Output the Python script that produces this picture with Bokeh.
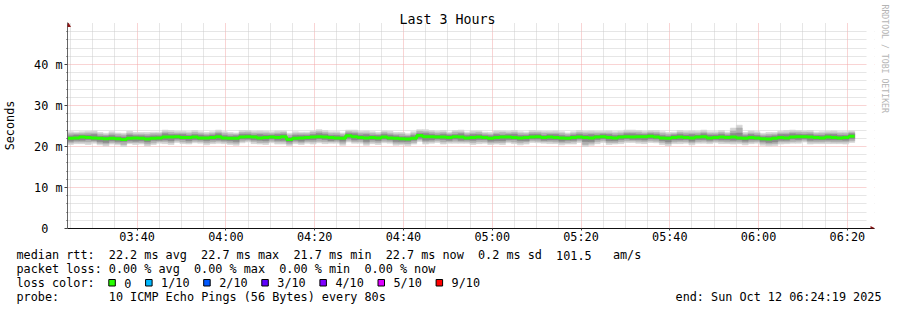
import numpy as np
import pandas as pd
from bokeh.plotting import figure
from bokeh.layouts import column
from bokeh.models import (Range1d, FixedTicker, DatetimeTickFormatter, Title,
                          BoxAnnotation, PolyAnnotation, ColumnDataSource)
from bokeh.core.properties import value
from bokeh.embed import file_html
from bokeh.resources import INLINE

# ---------------- data ----------------
title_text = "Last 3 Hours"
y_axis_text = "Seconds"
watermark_text = "RRDTOOL / TOBI OETIKER"
start_time = "2025-10-12 03:24:19"
end_time = "2025-10-12 06:24:19"
step_seconds = 80

x_tick_labels = ["03:40", "04:00", "04:20", "04:40", "05:00", "05:20", "05:40", "06:00", "06:20"]
x_minor_labels = ["03:25", "03:30", "03:35", "03:45", "03:50", "03:55", "04:05", "04:10", "04:15",
                  "04:25", "04:30", "04:35", "04:45", "04:50", "04:55", "05:05", "05:10", "05:15",
                  "05:25", "05:30", "05:35", "05:45", "05:50", "05:55", "06:05", "06:10", "06:15"]
y_ticks = [0, 10, 20, 30, 40]
y_tick_labels = ["0\u00a0\u00a0", "10 m", "20 m", "30 m", "40 m"]
y_minor_ticks = [2, 4, 6, 8, 12, 14, 16, 18, 22, 24, 26, 28, 32, 34, 36, 38, 42, 44, 46, 48]

# median RTT per 80 s step (ms)
median_ms = [
    22.0, 22.1, 22.3, 22.2, 22.1, 22.0, 21.9, 22.0, 21.9, 21.7, 22.0, 22.1, 22.0, 21.8, 22.0, 22.1, 22.3, 22.3, 22.4, 22.2, 22.2, 22.3, 22.1, 22.1, 22.2, 22.4, 22.1,
    22.0, 22.0, 22.3, 22.4, 22.3, 22.1, 22.2, 22.3, 22.2, 22.4, 21.7, 22.0, 22.1, 22.2, 22.3, 22.4, 22.3, 22.2, 22.1, 22.0, 22.6, 22.4, 22.2, 22.1, 22.2, 22.1, 22.3,
    22.1, 22.0, 21.9, 21.8, 22.0, 22.7, 22.4, 22.4, 22.3, 22.3, 22.2, 22.4, 22.3, 22.1, 22.2, 22.3, 22.2, 22.0, 22.2, 22.3, 22.3, 22.2, 22.1, 22.2, 22.3, 22.4, 22.2,
    22.3, 22.2, 22.1, 22.0, 22.2, 22.3, 22.2, 22.1, 22.3, 22.4, 22.2, 22.1, 22.3, 22.4, 22.3, 22.4, 22.4, 22.5, 22.3, 22.1, 22.0, 22.2, 22.3, 22.2, 22.1, 22.3, 22.4,
    22.1, 22.2, 22.3, 22.2, 22.3, 22.1, 22.0, 22.2, 22.1, 21.9, 21.8, 22.0, 22.2, 22.1, 22.3, 22.4, 22.4, 22.3, 22.2, 22.1, 22.3, 22.2, 22.1, 22.2, 22.5,
]
# smoke spread below / above the median (tenths of ms)
outer_dn = [
    15, 14, 16, 17, 13, 16, 18, 14, 15, 17, 13, 16, 14, 17, 15, 13, 16, 18, 14, 15, 16, 14, 13, 17, 15, 16, 14,
    15, 17, 14, 13, 16, 15, 17, 14, 16, 18, 15, 13, 16, 14, 17, 15, 16, 14, 13, 17, 15, 16, 14, 18, 15, 16, 14,
    13, 17, 15, 16, 14, 15, 18, 16, 13, 17, 14, 16, 15, 13, 17, 16, 14, 15, 16, 18, 14, 15, 17, 16, 13, 15, 14,
    16, 15, 17, 14, 16, 13, 22, 18, 16, 14, 17, 15, 16, 14, 13, 16, 17, 15, 14, 16, 18, 15, 16, 14, 17, 15, 16,
    14, 13, 16, 15, 17, 14, 16, 15, 13, 16, 17, 18, 16, 14, 15, 16, 13, 17, 15, 14, 16, 15, 14, 16, 15,
]
outer_up = [
    16, 14, 13, 15, 17, 14, 13, 16, 14, 15, 17, 13, 14, 16, 15, 14, 17, 16, 13, 15, 14, 16, 15, 13, 14, 16, 15,
    14, 13, 16, 15, 14, 17, 15, 13, 16, 14, 15, 16, 14, 13, 15, 17, 16, 14, 15, 13, 14, 16, 15, 17, 14, 13, 15,
    16, 14, 15, 13, 16, 14, 17, 15, 14, 16, 13, 15, 17, 14, 16, 15, 13, 14, 16, 15, 14, 17, 15, 13, 16, 14, 15,
    14, 16, 15, 13, 14, 16, 15, 17, 14, 13, 16, 15, 14, 16, 17, 15, 13, 14, 16, 15, 14, 13, 16, 15, 17, 14, 16,
    15, 14, 16, 13, 22, 31, 14, 16, 15, 13, 16, 14, 15, 18, 17, 15, 14, 16, 13, 15, 14, 16, 15, 14, 13,
]
mid_dn = [
    11, 10, 12, 11, 9, 12, 13, 10, 11, 12, 10, 11, 10, 12, 11, 9, 11, 13, 10, 11, 12, 10, 9, 12, 11, 11, 10,
    11, 12, 10, 9, 11, 11, 12, 10, 11, 13, 11, 9, 12, 10, 12, 11, 11, 10, 9, 12, 11, 12, 10, 13, 11, 11, 10,
    9, 12, 11, 11, 10, 11, 13, 12, 9, 12, 10, 11, 11, 9, 12, 11, 10, 11, 12, 13, 10, 11, 12, 11, 9, 11, 10,
    11, 11, 12, 10, 11, 9, 17, 13, 11, 10, 12, 11, 11, 10, 9, 11, 12, 11, 10, 11, 13, 11, 11, 10, 12, 11, 11,
    10, 9, 11, 11, 12, 10, 11, 11, 9, 11, 12, 13, 11, 10, 11, 11, 9, 12, 11, 10, 11, 11, 10, 11, 11,
]
mid_up = [
    11, 10, 9, 11, 12, 10, 9, 11, 10, 11, 12, 9, 10, 11, 11, 10, 12, 11, 9, 11, 10, 11, 11, 9, 10, 11, 11,
    10, 9, 11, 11, 10, 12, 11, 9, 11, 10, 11, 11, 10, 9, 11, 12, 11, 10, 11, 9, 10, 11, 11, 12, 10, 9, 11,
    11, 10, 11, 9, 11, 10, 12, 11, 10, 11, 9, 11, 12, 10, 11, 11, 9, 10, 11, 11, 10, 12, 11, 9, 11, 10, 11,
    10, 11, 11, 9, 10, 11, 11, 12, 10, 9, 11, 11, 10, 11, 12, 11, 9, 10, 11, 11, 10, 9, 11, 11, 12, 10, 11,
    11, 10, 11, 9, 15, 24, 10, 11, 11, 9, 11, 10, 11, 12, 12, 11, 10, 11, 9, 11, 10, 11, 11, 10, 9,
]
dark_dn = [
    7, 6, 8, 5, 6, 8, 9, 6, 7, 5, 6, 8, 6, 7, 5, 6, 7, 9, 6, 5, 8, 6, 5, 7, 6, 8, 6,
    6, 8, 5, 6, 7, 6, 8, 5, 7, 9, 6, 5, 8, 6, 7, 5, 6, 8, 5, 7, 6, 8, 5, 9, 6, 7, 5,
    5, 8, 7, 6, 5, 7, 9, 8, 5, 6, 7, 6, 8, 5, 7, 6, 5, 7, 8, 9, 6, 5, 7, 8, 5, 6, 7,
    7, 6, 8, 5, 7, 5, 10, 9, 6, 5, 8, 7, 6, 5, 6, 7, 8, 6, 5, 7, 9, 6, 7, 5, 8, 6, 7,
    6, 5, 7, 6, 8, 5, 7, 6, 5, 7, 8, 9, 7, 6, 5, 7, 5, 8, 6, 5, 7, 6, 5, 7, 6,
]
dark_up = [
    6, 7, 5, 6, 8, 5, 6, 7, 5, 6, 8, 5, 6, 7, 6, 5, 8, 6, 5, 7, 5, 6, 7, 5, 6, 7, 6,
    5, 6, 7, 6, 5, 8, 6, 5, 7, 6, 5, 7, 6, 5, 6, 8, 7, 5, 6, 5, 6, 7, 6, 8, 5, 6, 7,
    7, 6, 5, 6, 7, 5, 8, 6, 5, 7, 6, 5, 8, 6, 7, 6, 5, 6, 7, 5, 6, 8, 6, 5, 7, 6, 5,
    6, 7, 6, 5, 6, 7, 6, 8, 5, 6, 7, 6, 5, 7, 8, 6, 5, 6, 7, 6, 5, 6, 7, 6, 8, 5, 7,
    7, 6, 7, 5, 9, 12, 6, 7, 6, 5, 7, 6, 7, 8, 8, 6, 5, 7, 5, 6, 6, 7, 6, 5, 6,
]

rtt_head = "median rtt:"
rtt_items = ["22.2 ms avg", "22.7 ms max", "21.7 ms min", "22.7 ms now", "0.2 ms sd", "101.5", "am/s"]
rtt_cols = [13, 26, 39, 52, 65, 76, 84]
loss_head = "packet loss:"
loss_items = ["0.00 % avg", "0.00 % max", "0.00 % min", "0.00 % now"]
loss_cols = [13, 25, 37, 49]
color_head = "loss color:"
loss_labels = ["0", "1/10", "2/10", "3/10", "4/10", "5/10", "9/10"]
loss_colors = ["#26ff00", "#00b8ff", "#0059ff", "#5e00ff", "#7e00ff", "#dd00ff", "#ff0000"]
probe_head = "probe:"
probe_text = "10 ICMP Echo Pings (56 Bytes) every 80s"
end_text = "end: Sun Oct 12 06:24:19 2025"

# ---------------- layout constants ----------------
W = 897
H_MAIN, H_LEG = 248, 62
FL, FR, FT, FB = 66, 874, 22, 228      # frame edges (page px) of the chart
PX_PER_MS = 4.1
DATA_W = 800                           # px covered by the 3 hours
MONO = "DejaVu Sans Mono"
FS = "11.8px"
CW = 7.1
SMOKE = ["#d4d4d4", "#b0b0b0", "#8a8a8a"]
ARROW = "#8e1515"


def ms(ts):
    return pd.Timestamp(ts).value / 1e6


day = start_time.split(" ")[0]
t0 = ms(start_time)
t1 = ms(end_time)
px_ms = (t1 - t0) / DATA_W
step_ms = step_seconds * 1000.0

n = len(median_ms)
for arr in (outer_dn, outer_up, mid_dn, mid_up, dark_dn, dark_up):
    assert len(arr) == n
med = np.array(median_ms)
left = t0 + np.arange(n) * step_ms
right = left + step_ms

src = ColumnDataSource(dict(
    left=left, right=right,
    o_lo=med - np.array(outer_dn) / 10, o_hi=med + np.array(outer_up) / 10,
    m_lo=med - np.array(mid_dn) / 10, m_hi=med + np.array(mid_up) / 10,
    d_lo=med - np.array(dark_dn) / 10, d_hi=med + np.array(dark_up) / 10,
))

p = figure(width=W, height=H_MAIN, x_axis_type="datetime",
           x_range=Range1d(t0, t0 + (FR - FL) * px_ms),
           y_range=Range1d(0, (FB - FT) / PX_PER_MS),
           output_backend="svg", toolbar_location=None,
           min_border_left=FL, min_border_right=W - FR,
           min_border_top=FT, min_border_bottom=H_MAIN - FB,
           background_fill_color="white", border_fill_color="white")
p.outline_line_color = None
p.frame_align = False

# title (above panel)
p.title.text = title_text
p.title.align = "left"
p.title.offset = 332
p.title.text_font = MONO
p.title.text_font_size = "13.3px"
p.title.text_font_style = "normal"
p.title.text_color = "black"
p.title.standoff = -9

# watermark (right panel)
p.add_layout(Title(text=watermark_text, align="left", offset=-18, text_font=MONO,
                   text_font_size="8.2px", text_font_style="normal", text_color="#b4b4b4",
                   standoff=10), "right")

# hide grid past the data span
p.add_layout(BoxAnnotation(left=t1, fill_color="white", fill_alpha=1, line_color=None, level="underlay"))

for (lo, hi), col in zip([("o_lo", "o_hi"), ("m_lo", "m_hi"), ("d_lo", "d_hi")], SMOKE):
    p.quad(left="left", right="right", bottom=lo, top=hi, source=src,
           fill_color=col, line_color=col, line_width=0.6)

step_x = np.append(left, right[-1])
step_y = np.append(med, med[-1])
p.step(step_x, step_y, mode="after", line_width=3, line_color=loss_colors[0])

# axes / grid
xt = FixedTicker(ticks=[ms(day + " " + s) for s in x_tick_labels],
                 minor_ticks=[ms(day + " " + s) for s in x_minor_labels])
yt = FixedTicker(ticks=y_ticks, minor_ticks=y_minor_ticks)
p.xaxis.ticker = xt
p.yaxis.ticker = yt
p.xgrid.ticker = xt
p.ygrid.ticker = yt
p.xaxis.formatter = DatetimeTickFormatter(minsec="%H:%M", minutes="%H:%M", hourmin="%H:%M", hours="%H:%M")
p.yaxis.major_label_overrides = dict(zip(y_ticks, y_tick_labels))

for g in (p.xgrid, p.ygrid):
    g.grid_line_color = "#f2a8a8"
    g.grid_line_dash = "1 1"
    g.grid_line_width = 1
    g.minor_grid_line_color = "#cdcdcd"
    g.minor_grid_line_dash = "1 1"
    g.minor_grid_line_width = 1

for ax in (p.xaxis[0], p.yaxis[0]):
    ax.major_label_text_font = MONO
    ax.major_label_text_font_size = FS
    ax.major_label_text_color = "black"
    ax.major_tick_in = 0
    ax.minor_tick_in = 0
    ax.major_tick_line_color = "#444444"
    ax.minor_tick_line_color = "#444444"
p.yaxis.axis_line_color = "#666666"
p.xaxis.axis_line_color = "#111111"
p.yaxis.major_tick_out = 3
p.yaxis.minor_tick_out = 1
p.yaxis.major_label_standoff = 2
p.xaxis.major_tick_out = 2
p.xaxis.minor_tick_out = 0
p.xaxis.major_label_standoff = -1
p.yaxis.axis_label = y_axis_text
p.yaxis.axis_label_text_font = MONO
p.yaxis.axis_label_text_font_size = FS
p.yaxis.axis_label_text_font_style = "normal"
p.yaxis.axis_label_text_color = "black"
p.yaxis.axis_label_standoff = 14

# arrow heads (screen units relative to frame bottom-left)
p.add_layout(PolyAnnotation(xs=[-1.5, 1, 3.5], ys=[FB - FT - 4.5, FB - FT, FB - FT - 4.5],
                            xs_units="screen", ys_units="screen",
                            fill_color=ARROW, fill_alpha=1, line_color=None))
p.add_layout(PolyAnnotation(xs=[FR - FL - 5, FR - FL, FR - FL - 5], ys=[2.5, 0, -2.5],
                            xs_units="screen", ys_units="screen",
                            fill_color=ARROW, fill_alpha=1, line_color=None))

# ---------------- legend strip (page coordinates) ----------------
q = figure(width=W, height=H_LEG, x_range=Range1d(0, W), y_range=Range1d(H_MAIN + H_LEG, H_MAIN),
           x_axis_type=None, y_axis_type=None, output_backend="svg", toolbar_location=None,
           min_border=0, background_fill_color="white", border_fill_color="white")
q.outline_line_color = None
q.frame_align = False
q.xgrid.visible = False
q.ygrid.visible = False

LX = 16
rows = [254.5, 268.5, 282.5, 296.5]
tx, ty, tt = [], [], []


def put(x, y, s):
    tx.append(x)
    ty.append(y)
    tt.append(s)


put(LX, rows[0], rtt_head)
for s, c in zip(rtt_items, rtt_cols):
    put(LX + c * CW, rows[0], s)
put(LX, rows[1], loss_head)
for s, c in zip(loss_items, loss_cols):
    put(LX + c * CW, rows[1], s)
put(LX, rows[2], color_head)
sq_l, sq_r = [], []
sx = LX + 13 * CW
for lab in loss_labels:
    sq_l.append(sx)
    sq_r.append(sx + 6.5)
    lx = sx + 15.5
    put(lx, rows[2], lab)
    sx = lx + (len(lab) + 2) * CW
put(LX, rows[3], probe_head)
put(LX + 13 * CW, rows[3], probe_text)

q.text(x=tx, y=ty, text=tt, text_font=value(MONO), text_font_size=value(FS),
       text_baseline="middle", text_align="left", text_color="black")
q.text(x=[881], y=[rows[3]], text=[end_text], text_font=value(MONO), text_font_size=value(FS),
       text_baseline="middle", text_align="right", text_color="black")
q.quad(left=sq_l, right=sq_r, top=[279] * len(sq_l), bottom=[285.5] * len(sq_l),
       fill_color=loss_colors, line_color="black", line_width=1)

layout = column(p, q, spacing=0)
open("out.html", "w").write(file_html(layout, INLINE))
